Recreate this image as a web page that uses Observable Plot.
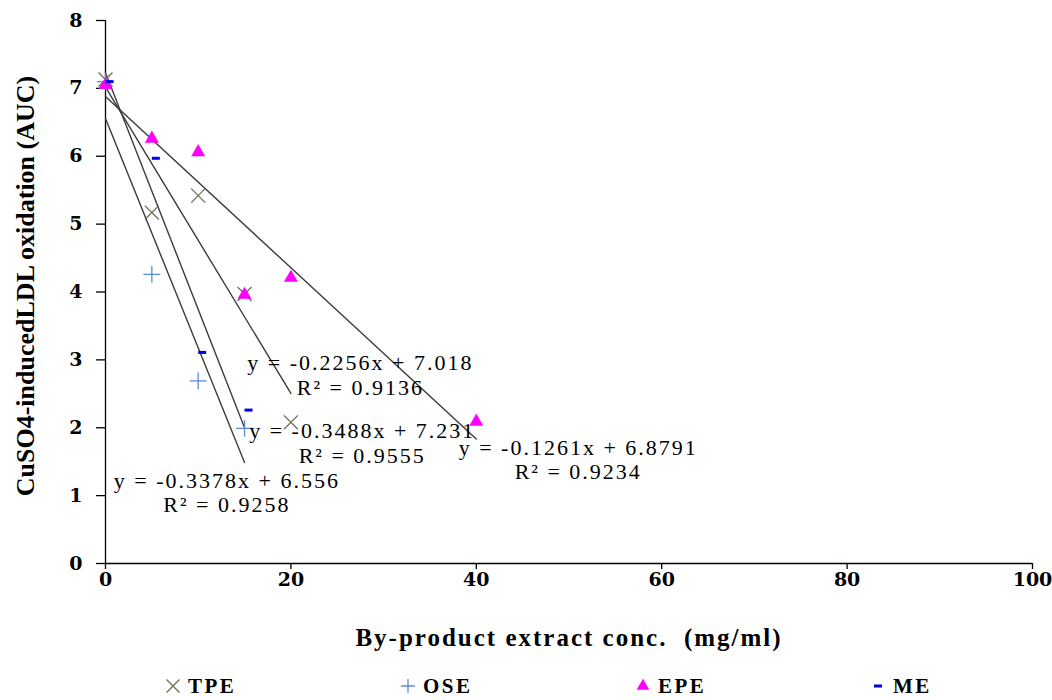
<!DOCTYPE html>
<html>
<head>
<meta charset="utf-8">
<script src="https://cdn.jsdelivr.net/npm/d3@7"></script>
<script src="https://cdn.jsdelivr.net/npm/@observablehq/plot@0.6"></script>
<style>
  body { margin: 0; background: #fff; font-family: "Liberation Serif", "Times New Roman", serif; }
  #chart svg { display: block; }
  g[aria-label="x-axis tick label"] text, g[aria-label="y-axis tick label"] text { font-family: "DejaVu Serif", serif; }
  #legend { position: relative; height: 40px; margin-top: 6px; }
  .item { position: absolute; top: 0; height: 40px; display: flex; align-items: center;
          font-family: "Liberation Serif", "Times New Roman", serif;
          font-weight: bold; font-size: 21px; letter-spacing: 2.5px; color: #000; }
  .item svg { margin-right: 8px; }
</style>
</head>
<body>
<div id="chart"></div>
<div id="legend"></div>
<script>
// ---------- data ----------
const seriesNames = ["TPE", "OSE", "EPE", "ME"];

const tpeX = [0, 5, 10, 15, 20];
const tpeY = [7.13, 5.17, 5.42, 3.97, 2.08];

const oseX = [0, 5, 10, 15];
const oseY = [7.10, 4.26, 2.69, 1.99];

const epeX = [0, 5, 10, 15, 20, 40];
const epeY = [7.05, 6.26, 6.06, 3.96, 4.21, 2.09];

const meX = [0, 5, 10, 15];
const meY = [7.10, 5.97, 3.11, 2.26];

// trendline equations as printed on the chart (TPE, OSE, EPE, ME)
const slopes = [-0.2256, -0.3378, -0.1261, -0.3488];
const intercepts = [7.018, 6.556, 6.8791, 7.231];
const r2s = [0.9136, 0.9258, 0.9234, 0.9555];

// equation label anchor points (data coordinates)
const labelX = [27.5, 13.1, 51.0, 27.7];
const labelY = [2.78, 1.05, 1.54, 1.78];

const xTicks = [0, 20, 40, 60, 80, 100];
const yTicks = [0, 1, 2, 3, 4, 5, 6, 7, 8];

const xTitle = "By-product extract conc.  (mg/ml)";
const yTitle = "CuSO4-inducedLDL oxidation (AUC)";

// ---------- build tables ----------
const xs = [tpeX, oseX, epeX, meX];
const ys = [tpeY, oseY, epeY, meY];
const pts = seriesNames.map((s, i) => xs[i].map((x, j) => ({series: s, x, y: ys[i][j]})));

const trend = seriesNames.flatMap((s, i) => {
  const xmax = d3.max(xs[i]);
  return [0, xmax].map(x => ({series: s, x, y: intercepts[i] + slopes[i] * x}));
});

const labels = seriesNames.map((s, i) => ({
  x: labelX[i], y: labelY[i],
  text: `y = ${slopes[i]}x + ${intercepts[i]}\nR\u00b2 = ${r2s[i]}`
}));

const colors = {TPE: "#6f6f52", OSE: "#5b8bd4", EPE: "#ff00ff", ME: "#0000e6"};
const dash = { draw(ctx, size) { ctx.rect(-4, -1.5, 8, 3); } };

const chart = Plot.plot({
  width: 1052,
  height: 660,
  marginLeft: 105,
  marginRight: 20,
  marginTop: 20,
  marginBottom: 97,
  style: {fontFamily: "'Liberation Serif', 'Times New Roman', serif", fontSize: "22px", background: "#fff", color: "#000"},
  x: {domain: [0, 100]},
  y: {domain: [0, 8]},
  marks: [
    Plot.axisX({ticks: xTicks, tickSize: 6, tickPadding: 3, fontSize: 19, fontWeight: "bold", label: null, strokeWidth: 1.3}),
    Plot.axisY({ticks: yTicks, tickSize: 9, tickPadding: 14, fontSize: 19, fontWeight: "bold", label: null, strokeWidth: 1.3}),
    Plot.ruleX([0], {stroke: "#000", strokeWidth: 1.3}),
    Plot.ruleY([0], {stroke: "#000", strokeWidth: 1.3}),
    Plot.line(trend, {x: "x", y: "y", z: "series", stroke: "#3c3c3c", strokeWidth: 1.4}),
    Plot.dot(pts[0], {x: "x", y: "y", symbol: "times", r: 6.4, stroke: colors.TPE, strokeWidth: 1.3}),
    Plot.dot(pts[1], {x: "x", y: "y", symbol: "plus", r: 5.5, stroke: colors.OSE, strokeWidth: 1.3}),
    Plot.dot(pts[2], {x: "x", y: "y", symbol: "triangle", r: 5.2, fill: colors.EPE, stroke: "none"}),
    Plot.dot(pts[3], {x: "x", y: "y", symbol: dash, fill: colors.ME, stroke: "none", dx: 4}),
    Plot.text(labels, {x: "x", y: "y", text: "text", fontSize: 22, lineHeight: 1.1, textAnchor: "middle", lineAnchor: "middle", fill: "#000"}),
    Plot.text([xTitle], {frameAnchor: "bottom", text: d => d, dy: 74, fontSize: 25, fontWeight: "bold", textAnchor: "middle", lineAnchor: "middle", fill: "#000"}),
    Plot.text([yTitle], {frameAnchor: "left", text: d => d, dx: -80, dy: -6, rotate: -90, fontSize: 26, fontWeight: "bold", textAnchor: "middle", lineAnchor: "middle", fill: "#000"})
  ]
});
document.getElementById("chart").appendChild(chart);

// widen the serif texts like the reference's rendering
d3.select(chart).selectAll("text").each(function () {
  const t = this.textContent;
  if (t.startsWith("y =")) this.style.letterSpacing = "2px";
  else if (t === xTitle) { this.style.letterSpacing = "2px"; this.style.whiteSpace = "pre"; }
});

// ---------- legend ----------
const legend = d3.select("#legend");
const legendSymbols = {TPE: d3.symbolTimes, OSE: d3.symbolPlus, EPE: d3.symbolTriangle, ME: null};
seriesNames.forEach((s, i) => {
  const item = legend.append("div").attr("class", "item").style("left", (166 + i * 235) + "px");
  const svg = item.append("svg").attr("width", 14).attr("height", 14);
  const g = svg.append("g").attr("transform", "translate(7,7)");
  if (s === "ME") {
    g.append("rect").attr("x", -4).attr("y", -1.5).attr("width", 8).attr("height", 3).attr("fill", colors.ME);
  } else if (s === "EPE") {
    g.append("path").attr("d", d3.symbol(legendSymbols[s], 70)()).attr("fill", colors.EPE);
  } else {
    g.append("path").attr("d", d3.symbol(legendSymbols[s], 110)()).attr("fill", "none").attr("stroke", colors[s]).attr("stroke-width", 1.3);
  }
  item.append("span").text(s);
});
</script>
</body>
</html>
